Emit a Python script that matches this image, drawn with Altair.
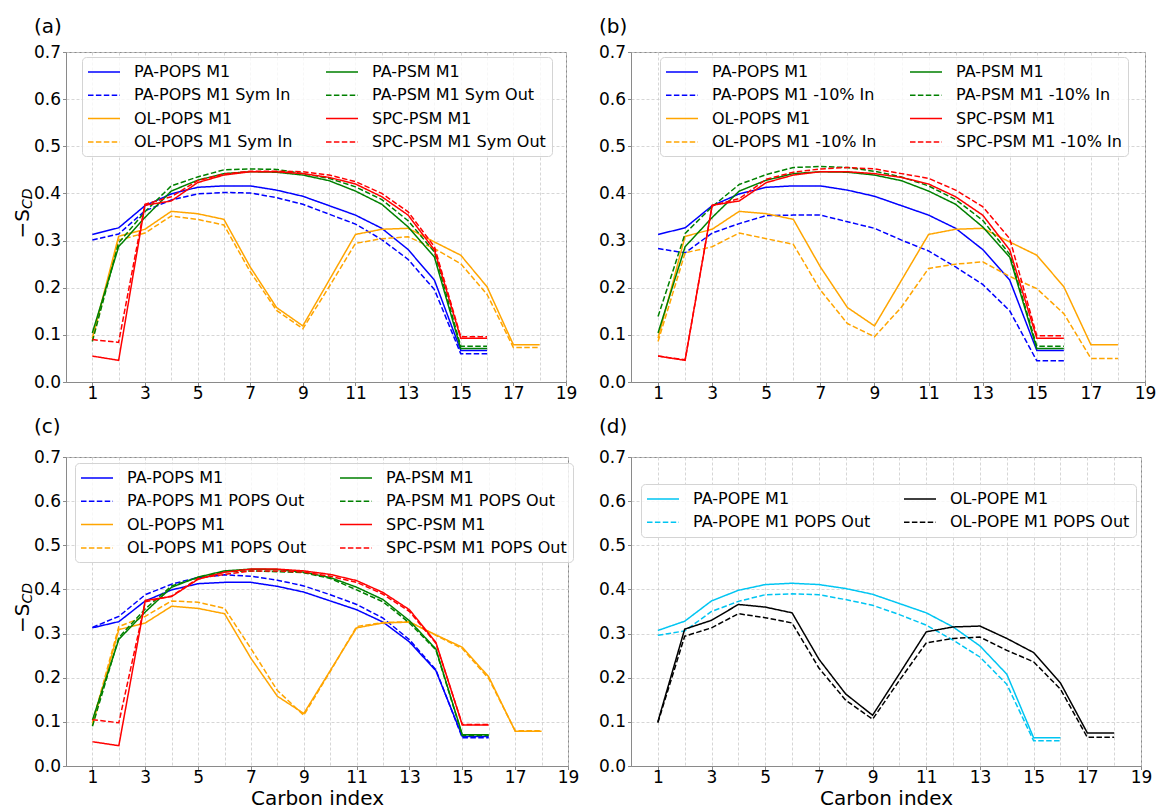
import altair as alt
import pandas as pd

FONT = "DejaVu Sans"

# ---------------- data ----------------
carbon_index = list(range(1, 19))
x_ticks = list(range(1, 20))
y_ticks = [0.0, 0.1, 0.2, 0.3, 0.4, 0.5, 0.6, 0.7]

pa_pops_m1 = [0.313, 0.327, 0.374, 0.399, 0.413, 0.416, 0.416, 0.407, 0.394, 0.374, 0.354, 0.326, 0.281, 0.216, 0.067, 0.067]
ol_pops_m1 = [0.093, 0.309, 0.324, 0.362, 0.357, 0.345, 0.244, 0.158, 0.119, 0.216, 0.313, 0.324, 0.326, 0.297, 0.269, 0.202, 0.079, 0.079]
pa_psm_m1 = [0.104, 0.287, 0.349, 0.405, 0.428, 0.442, 0.446, 0.445, 0.439, 0.427, 0.405, 0.377, 0.329, 0.265, 0.071, 0.071]
spc_psm_m1 = [0.055, 0.046, 0.375, 0.384, 0.423, 0.439, 0.446, 0.446, 0.442, 0.434, 0.420, 0.393, 0.354, 0.280, 0.093, 0.093]

# (a) symmetric variants
pa_pops_sym_in = [0.301, 0.314, 0.363, 0.386, 0.399, 0.402, 0.401, 0.391, 0.377, 0.356, 0.335, 0.302, 0.260, 0.196, 0.060, 0.060]
ol_pops_sym_in = [0.088, 0.301, 0.316, 0.352, 0.345, 0.333, 0.234, 0.152, 0.113, 0.202, 0.294, 0.304, 0.308, 0.283, 0.251, 0.186, 0.073, 0.073]
pa_psm_sym_out = [0.086, 0.295, 0.361, 0.416, 0.435, 0.450, 0.452, 0.451, 0.442, 0.432, 0.414, 0.387, 0.342, 0.276, 0.076, 0.076]
spc_psm_sym_out = [0.090, 0.084, 0.377, 0.393, 0.427, 0.441, 0.447, 0.447, 0.446, 0.439, 0.425, 0.400, 0.361, 0.287, 0.096, 0.096]

# (b) -10% In variants
pa_pops_m10_in = [0.283, 0.274, 0.316, 0.336, 0.353, 0.354, 0.354, 0.340, 0.326, 0.301, 0.278, 0.244, 0.207, 0.151, 0.045, 0.045]
ol_pops_m10_in = [0.086, 0.274, 0.287, 0.316, 0.304, 0.292, 0.195, 0.124, 0.096, 0.159, 0.241, 0.250, 0.255, 0.224, 0.198, 0.145, 0.050, 0.050]
pa_psm_m10_in = [0.139, 0.315, 0.372, 0.419, 0.440, 0.455, 0.457, 0.455, 0.447, 0.435, 0.416, 0.387, 0.343, 0.271, 0.076, 0.076]
spc_psm_m10_in = [0.055, 0.047, 0.374, 0.389, 0.430, 0.445, 0.452, 0.455, 0.452, 0.442, 0.432, 0.407, 0.372, 0.304, 0.098, 0.098]

# (c) POPS Out variants
pa_pops_pops_out = [0.314, 0.339, 0.388, 0.412, 0.427, 0.433, 0.430, 0.421, 0.408, 0.388, 0.366, 0.335, 0.286, 0.218, 0.064, 0.064]
ol_pops_pops_out = [0.098, 0.316, 0.339, 0.374, 0.371, 0.357, 0.266, 0.171, 0.115, 0.214, 0.316, 0.325, 0.327, 0.296, 0.266, 0.198, 0.080, 0.080]
pa_psm_pops_out = [0.090, 0.291, 0.356, 0.408, 0.427, 0.440, 0.442, 0.440, 0.438, 0.425, 0.399, 0.372, 0.324, 0.263, 0.069, 0.069]
spc_psm_pops_out = [0.105, 0.098, 0.372, 0.385, 0.425, 0.434, 0.442, 0.442, 0.439, 0.430, 0.416, 0.389, 0.350, 0.278, 0.094, 0.094]

# (d) POPE
pa_pope_m1 = [0.307, 0.328, 0.374, 0.398, 0.411, 0.414, 0.411, 0.402, 0.389, 0.368, 0.347, 0.315, 0.272, 0.208, 0.064, 0.064]
pa_pope_pops_out = [0.296, 0.306, 0.350, 0.373, 0.388, 0.390, 0.388, 0.377, 0.364, 0.343, 0.319, 0.285, 0.247, 0.185, 0.057, 0.057]
ol_pope_m1 = [0.100, 0.310, 0.330, 0.366, 0.360, 0.347, 0.242, 0.163, 0.115, 0.209, 0.304, 0.315, 0.317, 0.289, 0.257, 0.188, 0.075, 0.075]
ol_pope_pops_out = [0.098, 0.294, 0.313, 0.345, 0.336, 0.324, 0.222, 0.149, 0.106, 0.194, 0.279, 0.289, 0.292, 0.262, 0.236, 0.174, 0.065, 0.065]

# series names (legend column 1 then column 2)
names_a = ["PA-POPS M1", "PA-POPS M1 Sym In", "OL-POPS M1", "OL-POPS M1 Sym In",
           "PA-PSM M1", "PA-PSM M1 Sym Out", "SPC-PSM M1", "SPC-PSM M1 Sym Out"]
names_b = ["PA-POPS M1", "PA-POPS M1 -10% In", "OL-POPS M1", "OL-POPS M1 -10% In",
           "PA-PSM M1", "PA-PSM M1 -10% In", "SPC-PSM M1", "SPC-PSM M1 -10% In"]
names_c = ["PA-POPS M1", "PA-POPS M1 POPS Out", "OL-POPS M1", "OL-POPS M1 POPS Out",
           "PA-PSM M1", "PA-PSM M1 POPS Out", "SPC-PSM M1", "SPC-PSM M1 POPS Out"]
names_d = ["PA-POPE M1", "PA-POPE M1 POPS Out", "OL-POPE M1", "OL-POPE M1 POPS Out"]

values_a = [pa_pops_m1, pa_pops_sym_in, ol_pops_m1, ol_pops_sym_in, pa_psm_m1, pa_psm_sym_out, spc_psm_m1, spc_psm_sym_out]
values_b = [pa_pops_m1, pa_pops_m10_in, ol_pops_m1, ol_pops_m10_in, pa_psm_m1, pa_psm_m10_in, spc_psm_m1, spc_psm_m10_in]
values_c = [pa_pops_m1, pa_pops_pops_out, ol_pops_m1, ol_pops_pops_out, pa_psm_m1, pa_psm_pops_out, spc_psm_m1, spc_psm_pops_out]
values_d = [pa_pope_m1, pa_pope_pops_out, ol_pope_m1, ol_pope_pops_out]

# ---------------- styles ----------------
BLUE, ORANGE, GREEN, RED = "#0000ff", "#ffa500", "#008000", "#ff0000"
CYAN, BLACK = "#00c5f2", "#000000"
SOLID, DASHED = [1, 0], [5.5, 2.4]
colors_psm = [BLUE, BLUE, ORANGE, ORANGE, GREEN, GREEN, RED, RED]
dashes_psm = [SOLID, DASHED] * 4
colors_d = [CYAN, CYAN, BLACK, BLACK]
dashes_d = [SOLID, DASHED, SOLID, DASHED]

GRID = "#cccccc"
FRAME = "#8a8a8a"


def panel(label, names, values, colors, dashes, width, height,
          legend_x, legend_y, label_y, y_title, x_title):
    rows = []
    for n, v in zip(names, values):
        for xi, yi in zip(carbon_index, v):
            rows.append({"series": n, "x": xi, "y": yi})
    df = pd.DataFrame(rows)

    legend = alt.Legend(
        title=None, orient="none", legendX=legend_x, legendY=legend_y,
        columns=2, columnPadding=30, rowPadding=6.3,
        symbolType="M-2,0L2,0", symbolSize=256, symbolStrokeWidth=1.5,
        symbolOffset=7, labelOffset=21,
        labelFont=FONT, labelFontSize=16, labelColor="black", labelLimit=600,
        padding=6, strokeColor="#d4d4d4", fillColor="rgba(255,255,255,0.8)",
        cornerRadius=4,
    )

    x_axis = alt.Axis(
        values=x_ticks,
        labelExpr="datum.value % 2 == 1 ? datum.label : ''",
        tickOpacity={"condition": {"test": "datum.value % 2 == 1", "value": 1}, "value": 0},
        title=x_title if x_title else None,
        titleFontSize=20, titleFontWeight="normal", titleColor="black", titleFont=FONT,
        titlePadding=3, labelPadding=0,
    )
    y_axis = alt.Axis(values=y_ticks, format=".1f", title=None)

    lines = alt.Chart(df).mark_line(strokeWidth=1.5).encode(
        x=alt.X("x:Q", scale=alt.Scale(domain=[0, 19], nice=False, zero=False), axis=x_axis),
        y=alt.Y("y:Q", scale=alt.Scale(domain=[0, 0.7], nice=False), axis=y_axis),
        color=alt.Color("series:N", scale=alt.Scale(domain=names, range=colors),
                        legend=legend, sort=names),
        strokeDash=alt.StrokeDash("series:N", scale=alt.Scale(domain=names, range=dashes),
                                  legend=legend, sort=names),
    )

    lab = alt.Chart(pd.DataFrame({"t": [label]})).mark_text(
        font=FONT, fontSize=20, align="left", baseline="middle", color="black"
    ).encode(text="t:N", x=alt.value(-32), y=alt.value(label_y))

    layers = [lines, lab]
    if y_title:
        jy = height / 2 - 8
        s_txt = alt.Chart(pd.DataFrame({"t": ["\u2212S"]})).mark_text(
            font=FONT, fontSize=20, angle=270, align="right", baseline="alphabetic", color="black"
        ).encode(text="t:N", x=alt.value(-37), y=alt.value(jy))
        sub_txt = alt.Chart(pd.DataFrame({"t": ["CD"]})).mark_text(
            font=FONT, fontSize=14, fontStyle="italic", angle=270, align="left",
            baseline="alphabetic", color="black"
        ).encode(text="t:N", x=alt.value(-34), y=alt.value(jy))
        layers += [s_txt, sub_txt]

    return alt.layer(*layers).properties(width=width, height=height)


pa = panel("(a)", names_a, values_a, colors_psm, dashes_psm, 500, 330, 16, 5, -25, True, None)
pb = panel("(b)", names_b, values_b, colors_psm, dashes_psm, 514, 330, 29, 5, -25, False, None)
pc = panel("(c)", names_c, values_c, colors_psm, dashes_psm, 502, 309, 9, 6, -30, True, "Carbon index")
pd_ = panel("(d)", names_d, values_d, colors_d, dashes_d, 510, 309, 10, 27, -30, False, "Carbon index")

top = alt.hconcat(pa, pb, spacing=65, bounds="flush").resolve_scale(color="independent", strokeDash="independent")
bottom = alt.hconcat(pc, pd_, spacing=63, bounds="flush").resolve_scale(color="independent", strokeDash="independent")

chart = alt.vconcat(top, bottom, spacing=14).resolve_scale(
    color="independent", strokeDash="independent"
).properties(
    padding={"left": 4, "top": 8, "right": 0, "bottom": 0}
).configure(font=FONT).configure_view(
    stroke=FRAME, strokeWidth=1
).configure_axis(
    labelFont=FONT, labelFontSize=17, labelColor="black", labelFlush=False, labelOverlap=False,
    labelPadding=2, tickSize=3.5, tickColor=FRAME, domainColor=FRAME, domainWidth=1,
    grid=True, gridColor=GRID, gridDash=[3, 2], gridWidth=0.8,
)

chart.save("out.html", embed_options={"renderer": "svg", "actions": False})
